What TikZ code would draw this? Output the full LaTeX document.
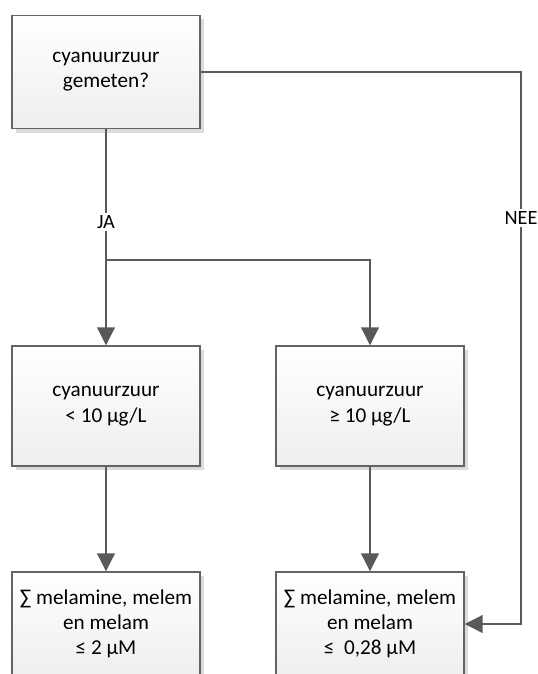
\documentclass[tikz,border=0pt]{standalone}
\usepackage{fontspec}
\setmainfont{Carlito}
\usepackage{xcolor}
\definecolor{lineGray}{RGB}{89, 89, 89}
\definecolor{boxGray}{RGB}{100, 100, 100}
\usetikzlibrary{arrows.meta, shadows}

\begin{document}
\begin{tikzpicture}[x=0.75pt, y=-0.75pt,
  box/.style={rectangle, draw=boxGray, line width=0.9pt,
              top color=white, bottom color=gray!13,
              minimum width=141pt, align=center,
              font=\fontsize{15.9}{19}\selectfont,
              drop shadow={shadow xshift=3pt, shadow yshift=-3pt,
                           fill=gray!28, opacity=1}},
  conn/.style={draw=lineGray, line width=2.2pt},
  arr/.style={conn, -{Triangle[length=13.5pt, width=13pt]}},
  tag/.style={fill=white, inner sep=2pt, font=\fontsize{15.2}{17}\selectfont}]

  % ---- Page ----
  \clip (0,0) rectangle (538,674);

  % ---- Boxes ----
  \node[box, minimum height=84.75pt] (gemeten) at (106,72)  {cyanuurzuur\\gemeten?};
  \node[box, minimum height=90pt]    (laag)    at (106,406) {cyanuurzuur\\< 10 µg/L};
  \node[box, minimum height=90pt]    (hoog)    at (370,406) {cyanuurzuur\\≥ 10 µg/L};
  \node[box, minimum height=78pt]    (somlaag) at (106,624) {∑ melamine, melem\\en melam\\≤ 2 µM};
  \node[box, minimum height=78pt]    (somhoog) at (370,624) {∑ melamine, melem\\en melam\\≤~ 0,28 µM};

  % ---- Bends ----
  \coordinate (split) at (106,260);
  \coordinate (bocht) at (521,72);

  % ---- Connectors ----
  % JA
  \draw[conn] (gemeten) -- node[tag, pos=0.71] {JA} (split);
  \draw[arr] (split) -- (laag);
  \draw[arr] (split) -| (hoog);

  % NEE
  \draw[arr] (gemeten) -- (bocht) |- node[tag, pos=0.132] {NEE} (somhoog);

  % down to the sums
  \draw[arr] (laag) -- (somlaag);
  \draw[arr] (hoog) -- (somhoog);

\end{tikzpicture}
\end{document}
